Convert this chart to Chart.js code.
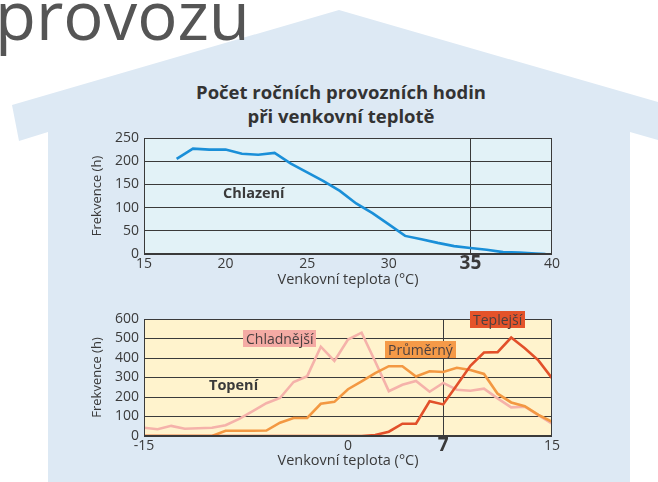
<!DOCTYPE html>
<html>
<head>
<meta charset="utf-8">
<script src="https://cdn.jsdelivr.net/npm/chart.js@4/dist/chart.umd.min.js"></script>
<style>
  body { margin:0; width:658px; height:482px; position:relative; overflow:hidden; background:#fff;
         font-family:"Open Sans", sans-serif; color:#3a3a3a; }
  #house { position:absolute; left:0; top:0; }
  canvas { position:absolute; }
  .t { position:absolute; white-space:nowrap; font-size:14px; line-height:17px; }
  .b { font-weight:bold; font-size:14.5px; }
  .tag { padding:0 3px; color:#4a4040; }
</style>
</head>
<body>
<svg id="house" width="658" height="482">
  <polygon points="48,482 48,132 19,141 12,105 339,10 668,105 668,143 630,132 630,482" fill="#dde9f4"/>
</svg>
<div class="t" style="left:-5px;top:-19px;font-size:67px;line-height:67px;color:#555">provozu</div>
<div class="t b" style="left:91px;width:500px;top:80px;text-align:center;font-size:18.5px;line-height:24px;color:#333">Počet ročních provozních hodin<br>při venkovní teplotě</div>

<canvas id="cool" width="490" height="168" style="left:82px;top:125px"></canvas>
<canvas id="heat" width="490" height="166" style="left:82px;top:306px"></canvas>

<div class="t b" style="left:223px;top:184px">Chlazení</div>
<div class="t b" style="left:209px;top:376px">Topení</div>
<div class="t tag" style="left:243px;top:330px;background:#f4aba4">Chladnější</div>
<div class="t tag" style="left:385px;top:341px;background:#f59a48">Průměrný</div>
<div class="t tag" style="left:470px;top:311px;background:#e4532a">Teplejší</div>

<script>
// chlazeni - hodiny za rok pri venkovni teplote
var coolTemps = [17,18,19,20,21,22,23,24,25,26,27,28,29,30,31,32,33,34,35,36,37,38,39,39.6];
var coolHours = [205,227,225,225,216,214,218,195,176,157,136,109,88,64,39,32,24,17,13,9,4,3,1,0];

// topeni - tri roky (chladnejsi, prumerny, teplejsi)
var heatTemps = [-15,-14,-13,-12,-11,-10,-9,-8,-7,-6,-5,-4,-3,-2,-1,0,1,2,3,4,5,6,7,8,9,10,11,12,13,14,15];
var coldYear = [42,35,52,37,40,42,55,88,127,168,195,277,307,458,385,495,530,382,230,263,282,227,272,237,232,243,193,147,150,107,63];
var avgYear  = [0,0,0,0,0,0,27,27,27,28,68,92,93,165,175,240,280,322,358,358,305,332,328,350,338,318,217,172,153,108,73];
var warmYear = [0,0,0,0,0,0,0,0,0,0,0,0,0,0,0,0,0,5,22,63,63,178,162,260,360,428,430,505,450,388,297];

var coolTicksX = [15,20,25,30,35,40];
var coolTicksY = [0,50,100,150,200,250];
var heatTicksX = [-15,0,7,15];
var heatTicksY = [0,100,200,300,400,500,600];

var FONT = '"Open Sans", sans-serif';
var INK = '#3a3a3a';

function pts(xs, ys) {
  return xs.map(function(x, i){ return {x: x, y: ys[i]}; });
}

// pozadi a ramecek grafu
var plotFrame = {
  id: 'plotFrame',
  beforeDraw: function(chart, args, opts) {
    var a = chart.chartArea, ctx = chart.ctx;
    ctx.save();
    ctx.fillStyle = opts.fill;
    ctx.fillRect(a.left, a.top, a.right - a.left, a.bottom - a.top);
    ctx.restore();
  },
  afterDraw: function(chart, args, opts) {
    var a = chart.chartArea, ctx = chart.ctx;
    ctx.save();
    ctx.strokeStyle = INK;
    ctx.lineWidth = 1;
    ctx.strokeRect(Math.round(a.left) + 0.5, Math.round(a.top) + 0.5,
                   Math.round(a.right - a.left) - 1, Math.round(a.bottom - a.top) - 1);
    ctx.restore();
  }
};

function xFont(bold) {
  return function(c) {
    if (c.tick && c.tick.value === bold) return {family: FONT, size: 19, weight: 'bold', lineHeight: '16px'};
    return {family: FONT, size: 14, lineHeight: '16px'};
  };
}

function makeOptions(o) {
  return {
    responsive: false,
    animation: false,
    layout: {padding: {left: 0, right: 20, top: 8, bottom: 0}},
    plugins: {legend: {display: false}, tooltip: {enabled: false}, plotFrame: {fill: o.fill}},
    elements: {point: {radius: 0}, line: {tension: 0, borderWidth: 2.6}},
    scales: {
      x: {
        type: 'linear', min: o.xMin, max: o.xMax,
        afterBuildTicks: function(s){ s.ticks = o.xTicks.map(function(v){ return {value: v}; }); },
        afterFit: function(s){ s.height = o.xHeight; },
        border: {display: false},
        grid: {drawTicks: false, lineWidth: 1,
               color: function(c){ return c.tick && c.tick.value === o.xMark ? INK : 'rgba(0,0,0,0)'; }},
        ticks: {padding: 2, color: INK, font: xFont(o.xMark), maxRotation: 0, autoSkip: false},
        title: {display: true, text: 'Venkovní teplota (°C)', color: INK,
                font: {family: FONT, size: 14.5}, padding: {top: 0, bottom: o.titlePad}}
      },
      y: {
        min: 0, max: o.yMax,
        afterBuildTicks: function(s){ s.ticks = o.yTicks.map(function(v){ return {value: v}; }); },
        afterFit: function(s){ s.width = 62; },
        border: {display: false},
        grid: {drawTicks: false, color: INK, lineWidth: 1},
        ticks: {padding: 5, color: INK, font: {family: FONT, size: 14, lineHeight: '16px'}},
        title: {display: true, text: 'Frekvence (h)', color: INK,
                font: {family: FONT, size: 13}, padding: {top: 7, bottom: 0}}
      }
    }
  };
}

new Chart(document.getElementById('cool'), {
  type: 'line',
  data: {datasets: [{label: 'Chlazení', data: pts(coolTemps, coolHours), borderColor: '#1a8fd8'}]},
  options: makeOptions({fill: '#e2f2f7', xMin: 15, xMax: 40, xTicks: coolTicksX, xMark: 35,
                        xHeight: 39, titlePad: 4, yMax: 250, yTicks: coolTicksY}),
  plugins: [plotFrame]
});

new Chart(document.getElementById('heat'), {
  type: 'line',
  data: {datasets: [
    {label: 'Teplejší', data: pts(heatTemps, warmYear), borderColor: '#e2502a', order: 1},
    {label: 'Průměrný', data: pts(heatTemps, avgYear), borderColor: '#f39842', order: 2},
    {label: 'Chladnější', data: pts(heatTemps, coldYear), borderColor: '#f5b2aa', order: 3}
  ]},
  options: makeOptions({fill: '#fff3cd', xMin: -15, xMax: 15, xTicks: heatTicksX, xMark: 7,
                        xHeight: 36, titlePad: 2, yMax: 600, yTicks: heatTicksY}),
  plugins: [plotFrame]
});
</script>
</body>
</html>
